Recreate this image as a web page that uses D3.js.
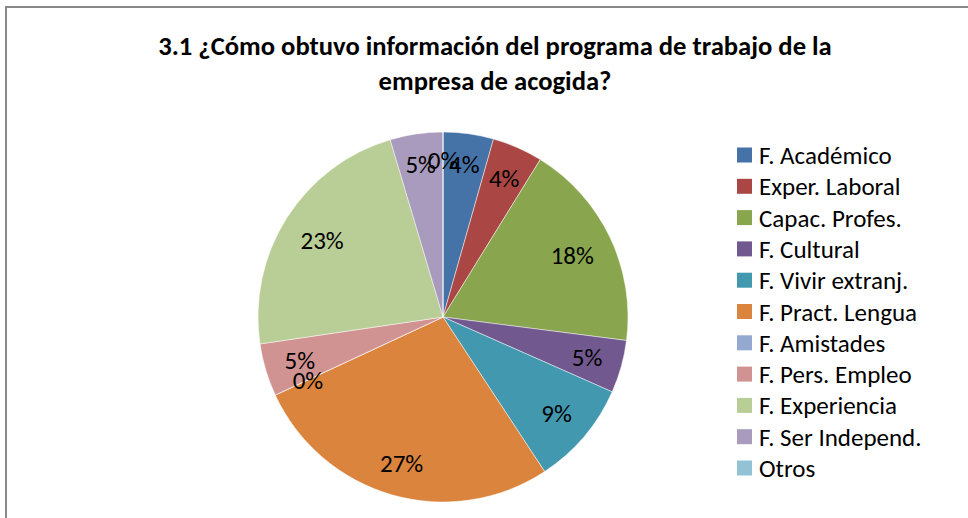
<!DOCTYPE html>
<html>
<head>
<meta charset="utf-8">
<script src="https://cdn.jsdelivr.net/npm/d3@7"></script>
<style>
  html, body { margin: 0; padding: 0; background: #fff; }
  svg { display: block; }
  text { font-family: Calibri, Carlito, Lato, "Noto Sans", sans-serif; fill: #000; }
</style>
</head>
<body>
<svg id="chart" width="968" height="518"></svg>
<script>
// Survey answers: share of respondents per information source
const categories = [
  "F. Académico", "Exper. Laboral", "Capac. Profes.", "F. Cultural",
  "F. Vivir extranj.", "F. Pract. Lengua", "F. Amistades", "F. Pers. Empleo",
  "F. Experiencia", "F. Ser Independ.", "Otros"
];
const values = [4.4, 4.4, 18.2, 4.6, 9.1, 27.3, 0, 4.6, 22.7, 4.6, 0];
const colors = [
  "#4572A7", "#AA4643", "#89A54E", "#71588F", "#4198AF", "#DB843D",
  "#93A9CF", "#D19392", "#B9CD96", "#A99BBD", "#92C3D4"
];
const titleLines = [
  "3.1 ¿Cómo obtuvo información del programa de trabajo de la",
  "empresa de acogida?"
];

const svg = d3.select("#chart");
const W = 968, H = 518;

// chart area frame
svg.append("rect")
  .attr("x", 6).attr("y", 7)
  .attr("width", W + 20).attr("height", H + 20)
  .attr("fill", "#fff").attr("stroke", "#898989").attr("stroke-width", 2);

// title: two centred bold lines, size fitted to the first line's width
const titleWidth = 674;
const titleY = [55, 90];
const titleCx = 495;
const titles = svg.selectAll("text.ttl")
  .data(titleLines)
  .join("text")
  .attr("class", "ttl")
  .attr("x", titleCx)
  .attr("y", (d, i) => titleY[i])
  .attr("text-anchor", "middle")
  .attr("font-weight", "bold")
  .attr("font-size", 22)
  .text(d => d);
const firstLen = titles.nodes()[0].getComputedTextLength();
titles.attr("font-size", 22 * titleWidth / firstLen);

// pie
const cx = 443, cy = 317, r = 185;
const color = d3.scaleOrdinal().domain(categories).range(colors);
const data = categories.map((c, i) => ({ name: c, value: values[i] }));
const total = d3.sum(values);

const pie = d3.pie().sort(null).value(d => d.value);
const arcs = pie(data);
const arc = d3.arc().innerRadius(0).outerRadius(r);

const g = svg.append("g").attr("transform", `translate(${cx},${cy})`);
g.selectAll("path.slice")
  .data(arcs)
  .join("path")
  .attr("class", "slice")
  .attr("d", arc)
  .attr("fill", d => color(d.data.name))
  .attr("stroke", "#ffffff")
  .attr("stroke-opacity", 0.6)
  .attr("stroke-width", 0.8);

// percentage labels, kept inside the rim
const labelFs = 25;
const labelR = r - 18;
const fmt = v => Math.round(v / total * 100) + "%";
g.selectAll("text.lbl")
  .data(arcs)
  .join("text")
  .attr("class", "lbl")
  .attr("font-size", labelFs)
  .attr("text-anchor", "middle")
  .attr("dy", "0.36em")
  .text(d => fmt(d.data.value))
  .each(function(d) {
    const a = (d.startAngle + d.endAngle) / 2;
    const w = this.getComputedTextLength();
    const ext = Math.abs(Math.sin(a)) * w / 2 + Math.abs(Math.cos(a)) * 10;
    const rr = labelR - ext;
    d3.select(this)
      .attr("x", Math.sin(a) * rr)
      .attr("y", -Math.cos(a) * rr);
  });

// legend
const legY0 = 155, legStep = 31.3;
const leg = svg.append("g");
const rows = leg.selectAll("g.row")
  .data(categories)
  .join("g")
  .attr("class", "row")
  .attr("transform", (d, i) => `translate(737,${legY0 + i * legStep})`);
rows.append("rect")
  .attr("x", 0).attr("y", -7.5)
  .attr("width", 15).attr("height", 15)
  .attr("fill", d => color(d));
rows.append("text")
  .attr("x", 22).attr("dy", "0.36em")
  .attr("font-size", 25)
  .text(d => d);
</script>
</body>
</html>
